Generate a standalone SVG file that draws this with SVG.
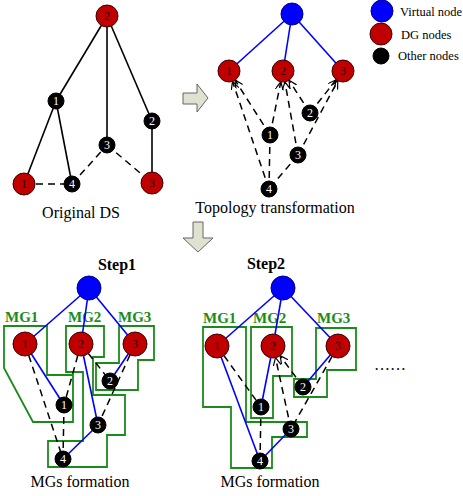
<svg xmlns="http://www.w3.org/2000/svg" width="463" height="496" viewBox="0 0 463 496" font-family="'Liberation Serif', 'Times New Roman', serif">
<style>
.s{stroke:#000;stroke-width:1.6;fill:none;}
.d{stroke:#000;stroke-width:1.5;fill:none;stroke-dasharray:7,5;}
.b{stroke:#0000ff;stroke-width:1.6;fill:none;}
.mg{stroke:#1a8c1a;stroke-width:1.8;fill:none;}
.red{fill:#c00000;stroke:#3a0000;stroke-width:1;}
.blk{fill:#000;stroke:#000;stroke-width:1;}
.vir{fill:#0000ff;stroke:#00008a;stroke-width:1;}
.rn{font-family:'Liberation Serif',serif;font-size:12px;fill:#200000;text-anchor:middle;}
.bn{font-family:'Liberation Serif',serif;font-size:12px;fill:#fff;text-anchor:middle;}
.cap{font-family:'Liberation Serif',serif;font-size:16px;fill:#000;text-anchor:middle;}
.leg{font-family:'Liberation Serif',serif;font-size:12.5px;fill:#000;}
.mgl{font-family:'Liberation Serif',serif;font-size:15px;font-weight:bold;fill:#1a8c1a;}
.step{font-family:'Liberation Serif',serif;font-size:16px;font-weight:bold;fill:#000;text-anchor:middle;}
.arw{fill:#dfe2d0;stroke:#666;stroke-width:1;}
</style>
<defs>
<marker id="arr" markerWidth="10" markerHeight="10" refX="8" refY="4" orient="auto" markerUnits="userSpaceOnUse">
<path d="M0,0 L8,4 L0,8" fill="none" stroke="#000" stroke-width="1.2"/>
</marker>
</defs>

<!-- ===== Original DS ===== -->
<g id="connectors-orig">
<line class="s" x1="107" y1="16" x2="56" y2="101"/>
<line class="s" x1="107" y1="16" x2="107" y2="145"/>
<line class="s" x1="107" y1="16" x2="152" y2="121"/>
<line class="s" x1="56" y1="101" x2="24" y2="184"/>
<line class="s" x1="56" y1="101" x2="72" y2="184"/>
<line class="s" x1="152" y1="121" x2="152" y2="183"/>
<line class="d" x1="24" y1="184" x2="72" y2="184"/>
<line class="d" x1="72" y1="184" x2="107" y2="145"/>
<line class="d" x1="107" y1="145" x2="152" y2="183"/>
</g>
<g id="o-dg2"><circle class="red" cx="107" cy="16" r="11"/><text class="rn" x="107" y="20">2</text></g>
<g id="o-n1"><circle class="blk" cx="56" cy="101" r="8"/><text class="bn" x="56" y="105">1</text></g>
<g id="o-n2"><circle class="blk" cx="152" cy="121" r="8"/><text class="bn" x="152" y="125">2</text></g>
<g id="o-n3"><circle class="blk" cx="107" cy="145" r="8"/><text class="bn" x="107" y="149">3</text></g>
<g id="o-dg1"><circle class="red" cx="24" cy="184" r="11"/><text class="rn" x="24" y="188">1</text></g>
<g id="o-n4"><circle class="blk" cx="72" cy="184" r="8"/><text class="bn" x="72" y="188">4</text></g>
<g id="o-dg3"><circle class="red" cx="152" cy="183" r="11"/><text class="rn" x="152" y="187">3</text></g>
<text class="cap" x="81" y="218">Original DS</text>

<!-- arrows -->
<g id="arrow-right"><polygon class="arw" points="183,93 197,93 197,84 208,98 197,112 197,104 183,104"/></g>
<g id="arrow-down"><polygon class="arw" points="193,222 203,222 203,238 213,238 198,252 183,238 193,238"/></g>

<!-- ===== Topology transformation ===== -->
<g id="connectors-topo">
<line class="b" x1="292" y1="14" x2="229" y2="71"/>
<line class="b" x1="292" y1="14" x2="283" y2="71"/>
<line class="b" x1="292" y1="14" x2="343" y2="71"/>
<line class="d" x1="270" y1="135" x2="235" y2="80" marker-end="url(#arr)"/>
<line class="d" x1="269" y1="189" x2="232.5" y2="81.4" marker-end="url(#arr)"/>
<line class="d" x1="270" y1="135" x2="280.8" y2="81.8" marker-end="url(#arr)"/>
<line class="d" x1="298" y1="155" x2="284.9" y2="81.8" marker-end="url(#arr)"/>
<line class="d" x1="310" y1="113" x2="289" y2="80.3" marker-end="url(#arr)"/>
<line class="d" x1="310" y1="113" x2="336.2" y2="79.7" marker-end="url(#arr)"/>
<line class="d" x1="298" y1="155" x2="337.8" y2="80.7" marker-end="url(#arr)"/>
<line class="d" x1="270" y1="135" x2="269" y2="189"/>
<line class="d" x1="298" y1="155" x2="269" y2="189"/>
</g>
<g id="t-virtual"><circle class="vir" cx="292" cy="14" r="11"/></g>
<g id="t-dg1"><circle class="red" cx="229" cy="71" r="11"/><text class="rn" x="229" y="75">1</text></g>
<g id="t-dg2"><circle class="red" cx="283" cy="71" r="11"/><text class="rn" x="283" y="75">2</text></g>
<g id="t-dg3"><circle class="red" cx="343" cy="71" r="11"/><text class="rn" x="343" y="75">3</text></g>
<g id="t-n2"><circle class="blk" cx="310" cy="113" r="8"/><text class="bn" x="310" y="117">2</text></g>
<g id="t-n1"><circle class="blk" cx="270" cy="135" r="8"/><text class="bn" x="270" y="139">1</text></g>
<g id="t-n3"><circle class="blk" cx="298" cy="155" r="8"/><text class="bn" x="298" y="159">3</text></g>
<g id="t-n4"><circle class="blk" cx="269" cy="189" r="8"/><text class="bn" x="269" y="193">4</text></g>
<text class="cap" x="275" y="213">Topology transformation</text>

<!-- legend -->
<g id="legend">
<circle class="vir" cx="382" cy="11" r="11"/><text class="leg" x="400" y="16">Virtual node</text>
<circle class="red" cx="381" cy="34" r="11"/><text class="leg" x="401" y="39">DG nodes</text>
<circle class="blk" cx="381" cy="56" r="8"/><text class="leg" x="398" y="60">Other nodes</text>
</g>

<!-- ===== Step1 ===== -->
<text class="step" x="117" y="270">Step1</text>
<g id="s1-mgs">
<polygon class="mg" points="4,326 47,326 47,375 73,375 73,422 33,422 4,368"/>
<polygon class="mg" points="66,326 104,326 104,357 93,357 93,395 125,395 125,435 107,435 107,467 48,467 48,441 83,441 83,372 66,372"/>
<polygon class="mg" points="119,326 154,326 154,360 138,360 138,390 96,390 96,363 119,363"/>
<text class="mgl" x="5" y="322">MG1</text>
<text class="mgl" x="68" y="322">MG2</text>
<text class="mgl" x="118" y="322">MG3</text>
</g>
<g id="connectors-s1">
<line class="b" x1="89" y1="288" x2="25" y2="344"/>
<line class="b" x1="89" y1="288" x2="81" y2="344"/>
<line class="b" x1="89" y1="288" x2="135" y2="344"/>
<line class="b" x1="25" y1="344" x2="64" y2="405"/>
<line class="b" x1="81" y1="344" x2="98" y2="425"/>
<line class="b" x1="98" y1="425" x2="63" y2="459"/>
<line class="b" x1="135" y1="344" x2="110" y2="381"/>
<line class="d" x1="25" y1="344" x2="63" y2="459"/>
<line class="d" x1="81" y1="344" x2="64" y2="405"/>
<line class="d" x1="64" y1="405" x2="63" y2="459"/>
<line class="d" x1="81" y1="344" x2="110" y2="381"/>
<line class="d" x1="135" y1="344" x2="98" y2="425"/>
</g>
<g id="s1-virtual"><circle class="vir" cx="89" cy="288" r="12"/></g>
<g id="s1-dg1"><circle class="red" cx="25" cy="344" r="12"/><text class="rn" x="25" y="348">1</text></g>
<g id="s1-dg2"><circle class="red" cx="81" cy="344" r="12"/><text class="rn" x="81" y="348">2</text></g>
<g id="s1-dg3"><circle class="red" cx="135" cy="344" r="12"/><text class="rn" x="135" y="348">3</text></g>
<g id="s1-n2"><circle class="blk" cx="110" cy="381" r="8"/><text class="bn" x="110" y="385">2</text></g>
<g id="s1-n1"><circle class="blk" cx="64" cy="405" r="8"/><text class="bn" x="64" y="409">1</text></g>
<g id="s1-n3"><circle class="blk" cx="98" cy="425" r="8"/><text class="bn" x="98" y="429">3</text></g>
<g id="s1-n4"><circle class="blk" cx="63" cy="459" r="8"/><text class="bn" x="63" y="463">4</text></g>
<text class="cap" x="80" y="487">MGs formation</text>

<!-- ===== Step2 ===== -->
<text class="step" x="266" y="269">Step2</text>
<g id="s2-mgs">
<polygon class="mg" points="203,327 246,327 246,422 307,422 307,437 272,437 272,468 231,468 231,407 203,407"/>
<polygon class="mg" points="251,327 292,327 292,376 273,376 273,418 251,418"/>
<polygon class="mg" points="316,328 356,328 356,370 327,370 327,397 294,397 294,379 316,379"/>
<text class="mgl" x="203" y="323">MG1</text>
<text class="mgl" x="253" y="323">MG2</text>
<text class="mgl" x="317" y="323">MG3</text>
</g>
<g id="connectors-s2">
<line class="b" x1="283" y1="288" x2="217" y2="346"/>
<line class="b" x1="283" y1="288" x2="273" y2="346"/>
<line class="b" x1="283" y1="288" x2="338" y2="346"/>
<line class="b" x1="217" y1="346" x2="260" y2="461"/>
<line class="b" x1="273" y1="346" x2="261" y2="407"/>
<line class="b" x1="338" y1="346" x2="303" y2="387"/>
<line class="b" x1="260" y1="461" x2="291" y2="429"/>
<line class="d" x1="217" y1="346" x2="261" y2="407"/>
<line class="d" x1="303" y1="387" x2="280.1" y2="355.7" marker-end="url(#arr)"/>
<line class="d" x1="291" y1="429" x2="275.5" y2="357.7" marker-end="url(#arr)"/>
<line class="d" x1="261" y1="407" x2="260" y2="461"/>
<line class="d" x1="338" y1="346" x2="291" y2="429"/>
</g>
<g id="s2-virtual"><circle class="vir" cx="283" cy="288" r="12"/></g>
<g id="s2-dg1"><circle class="red" cx="217" cy="346" r="12"/><text class="rn" x="217" y="350">1</text></g>
<g id="s2-dg2"><circle class="red" cx="273" cy="346" r="12"/><text class="rn" x="273" y="350">2</text></g>
<g id="s2-dg3"><circle class="red" cx="338" cy="346" r="12"/><text class="rn" x="338" y="350">3</text></g>
<g id="s2-n2"><circle class="blk" cx="303" cy="387" r="8"/><text class="bn" x="303" y="391">2</text></g>
<g id="s2-n1"><circle class="blk" cx="261" cy="407" r="8"/><text class="bn" x="261" y="411">1</text></g>
<g id="s2-n3"><circle class="blk" cx="291" cy="429" r="8"/><text class="bn" x="291" y="433">3</text></g>
<g id="s2-n4"><circle class="blk" cx="260" cy="461" r="8"/><text class="bn" x="260" y="465">4</text></g>
<text class="cap" x="270" y="487">MGs formation</text>
<text class="cap" x="390" y="370">……</text>
</svg>
